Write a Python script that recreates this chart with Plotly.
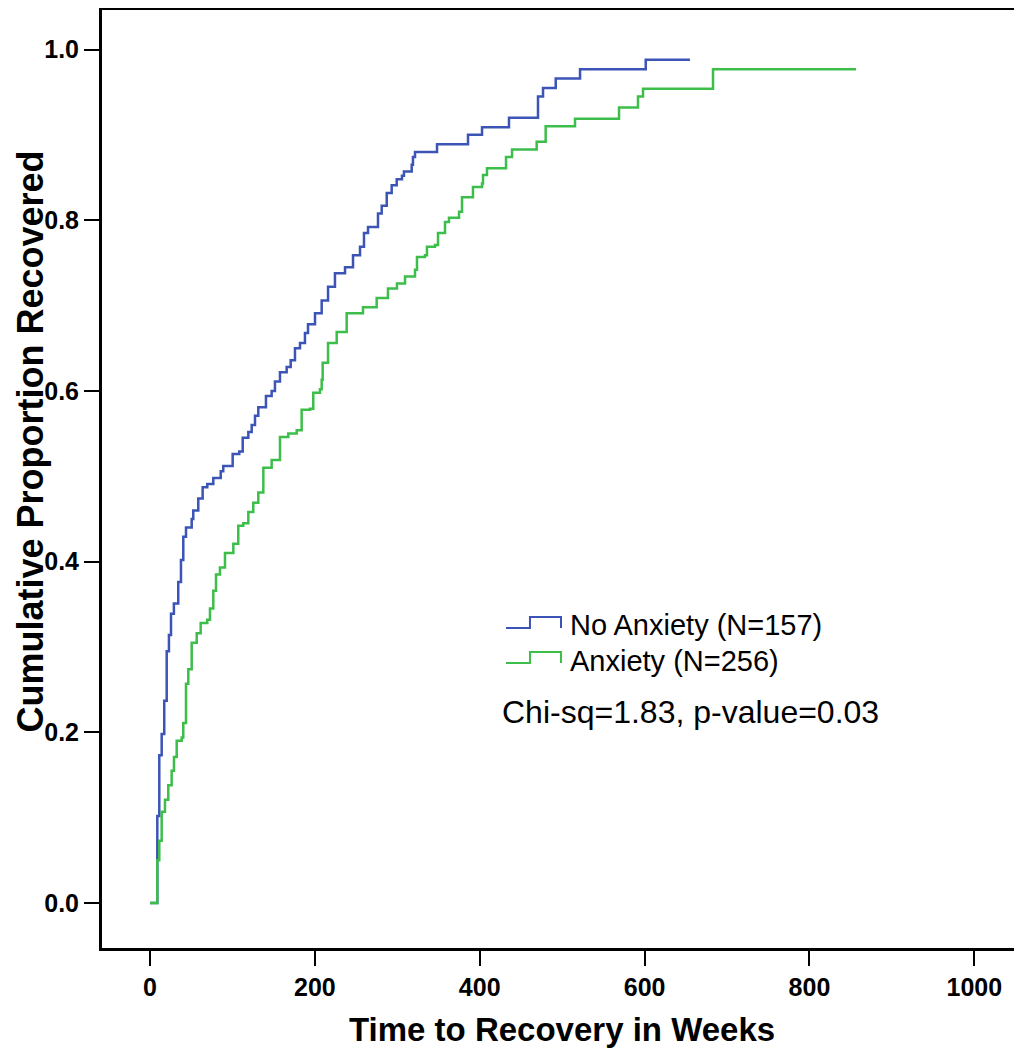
import plotly.graph_objects as go

# Kaplan-Meier style cumulative recovery (event time in weeks, cumulative proportion after step)
no_anx_t = [0, 8.9, 11.3, 14.2, 17.3, 20.3, 23.0, 25.5, 29.0, 34.3, 37.6, 40.4, 43.7, 50.6, 52.5,
            58.6, 63.9, 69.5, 76.8, 85.8, 88.9, 100.3, 108.3, 112.5, 119.3, 123.4, 127.4, 131.4,
            140.7, 147.6, 151.6, 157.7, 165.8, 170.7, 175.9, 182.0, 188.0, 191.7, 200.2, 208.3,
            216.0, 224.4, 236.6, 246.3, 254.8, 259.6, 264.5, 276.6, 281.1, 287.2, 293.2, 299.3,
            305.7, 308.1, 317.5, 319.0, 321.5, 348.2, 385.8, 402.8, 435.5, 470.7, 476.8, 492.2,
            521.7, 601.4, 655.0]
no_anx_p = [0.0, 0.102, 0.173, 0.198, 0.237, 0.295, 0.314, 0.339, 0.351, 0.376, 0.402, 0.429, 0.440,
            0.450, 0.460, 0.474, 0.487, 0.491, 0.498, 0.506, 0.512, 0.526, 0.529, 0.545, 0.552,
            0.560, 0.571, 0.581, 0.594, 0.600, 0.611, 0.622, 0.628, 0.636, 0.650, 0.656, 0.668,
            0.678, 0.691, 0.706, 0.722, 0.738, 0.745, 0.759, 0.769, 0.785, 0.792, 0.808, 0.817,
            0.832, 0.841, 0.848, 0.852, 0.857, 0.865, 0.874, 0.880, 0.889, 0.900, 0.909, 0.920,
            0.945, 0.955, 0.966, 0.977, 0.988, 0.988]

anx_t = [0, 8.9, 11.3, 14.2, 18.2, 22.2, 26.3, 29.1, 32.4, 38.5, 40.4, 43.7, 46.5, 50.6, 56.7, 61.5,
         69.5, 72.8, 76.8, 80.1, 84.9, 91.0, 101.1, 107.1, 113.2, 119.3, 125.3, 131.4, 137.5, 147.6,
         157.7, 167.8, 178.0, 184.0, 194.1, 198.1, 206.2, 208.3, 209.5, 216.0, 226.5, 238.6, 258.4,
         275.0, 288.7, 299.6, 309.4, 321.5, 323.9, 333.6, 336.0, 345.8, 349.4, 357.9, 362.7, 374.9,
         378.5, 391.8, 402.8, 404.0, 408.8, 431.9, 439.2, 469.1, 480.0, 515.6, 569.0, 592.0, 598.1,
         683.0, 856.5]
anx_p = [0.0, 0.050, 0.073, 0.107, 0.121, 0.138, 0.155, 0.171, 0.190, 0.194, 0.211, 0.257, 0.274,
         0.305, 0.316, 0.328, 0.332, 0.345, 0.366, 0.385, 0.393, 0.410, 0.421, 0.442, 0.445, 0.458,
         0.469, 0.481, 0.510, 0.519, 0.546, 0.550, 0.554, 0.578, 0.579, 0.598, 0.602, 0.613, 0.633,
         0.656, 0.669, 0.691, 0.698, 0.709, 0.720, 0.726, 0.734, 0.742, 0.757, 0.759, 0.769, 0.771,
         0.785, 0.798, 0.803, 0.810, 0.827, 0.839, 0.843, 0.853, 0.861, 0.874, 0.883, 0.892, 0.910,
         0.919, 0.932, 0.945, 0.954, 0.977, 0.977]

x_ticks = [0, 200, 400, 600, 800, 1000]
y_ticks = [0.0, 0.2, 0.4, 0.6, 0.8, 1.0]

legend_labels = ["No Anxiety (N=157)", "Anxiety (N=256)"]
stat_text = "Chi-sq=1.83, p-value=0.03"
x_title = "Time to Recovery in Weeks"
y_title = "Cumulative Proportion Recovered"

BLUE = "#3B54B6"
GREEN = "#3DBE4A"
FONT = "Liberation Sans, Arial, sans-serif"

fig = go.Figure()
fig.add_trace(go.Scatter(x=no_anx_t, y=no_anx_p, mode="lines", line=dict(color=BLUE, width=2.5, shape="hv"),
                         name=legend_labels[0], showlegend=False))
fig.add_trace(go.Scatter(x=anx_t, y=anx_p, mode="lines", line=dict(color=GREEN, width=2.5, shape="hv"),
                         name=legend_labels[1], showlegend=False))

# custom legend (step-shaped symbols) in paper coordinates
def step_symbol(x0, x1, x2, ylo, yhi, color):
    fig.add_shape(type="path", xref="paper", yref="paper",
                  path=f"M {x0} {ylo} L {x1} {ylo} L {x1} {yhi} L {x2} {yhi} L {x2} {ylo}",
                  line=dict(color=color, width=2))

step_symbol(0.4401, 0.4662, 0.5000, 0.3412, 0.3529, BLUE)
step_symbol(0.4401, 0.4662, 0.5000, 0.3038, 0.3156, GREEN)

txt_font = dict(family=FONT, size=29, color="black")
fig.add_annotation(x=0.5076, y=0.3443, xref="paper", yref="paper", text=legend_labels[0],
                   showarrow=False, xanchor="left", yanchor="middle", font=txt_font)
fig.add_annotation(x=0.5076, y=0.3060, xref="paper", yref="paper", text=legend_labels[1],
                   showarrow=False, xanchor="left", yanchor="middle", font=txt_font)
fig.add_annotation(x=0.4336, y=0.2516, xref="paper", yref="paper", text=stat_text,
                   showarrow=False, xanchor="left", yanchor="middle",
                   font=dict(family=FONT, size=32, color="black"))

# axis titles
fig.add_annotation(x=0.501, y=-0.0874, xref="paper", yref="paper", text=x_title,
                   showarrow=False, xanchor="center", yanchor="middle",
                   font=dict(family=FONT, size=33, color="black", weight="bold"))
fig.add_annotation(x=-0.0784, y=0.540, xref="paper", yref="paper", text=y_title, textangle=-90,
                   showarrow=False, xanchor="center", yanchor="middle",
                   font=dict(family=FONT, size=36, color="black", weight="bold"))

tick_font = dict(family=FONT, size=25, color="black", weight="bold")

fig.update_xaxes(range=[-58.2, 1055.4], tickvals=x_ticks, ticktext=[str(v) for v in x_ticks],
                 showline=True, linecolor="black", linewidth=3, mirror=True,
                 ticks="outside", ticklen=15, tickwidth=2, tickcolor="black",
                 showgrid=False, zeroline=False, tickfont=tick_font)
fig.update_yaxes(range=[-0.0527, 1.0463], tickvals=y_ticks, ticktext=[f"{v:.1f}" for v in y_ticks],
                 showline=True, linecolor="black", linewidth=3, mirror=True,
                 ticks="outside", ticklen=15, tickwidth=2, tickcolor="black",
                 showgrid=False, zeroline=False, tickfont=tick_font)

fig.update_layout(width=1014, height=1042, margin=dict(l=94, r=2, t=2, b=102, autoexpand=False),
                  plot_bgcolor="white", paper_bgcolor="white", showlegend=False)

fig.write_html("out.html")
